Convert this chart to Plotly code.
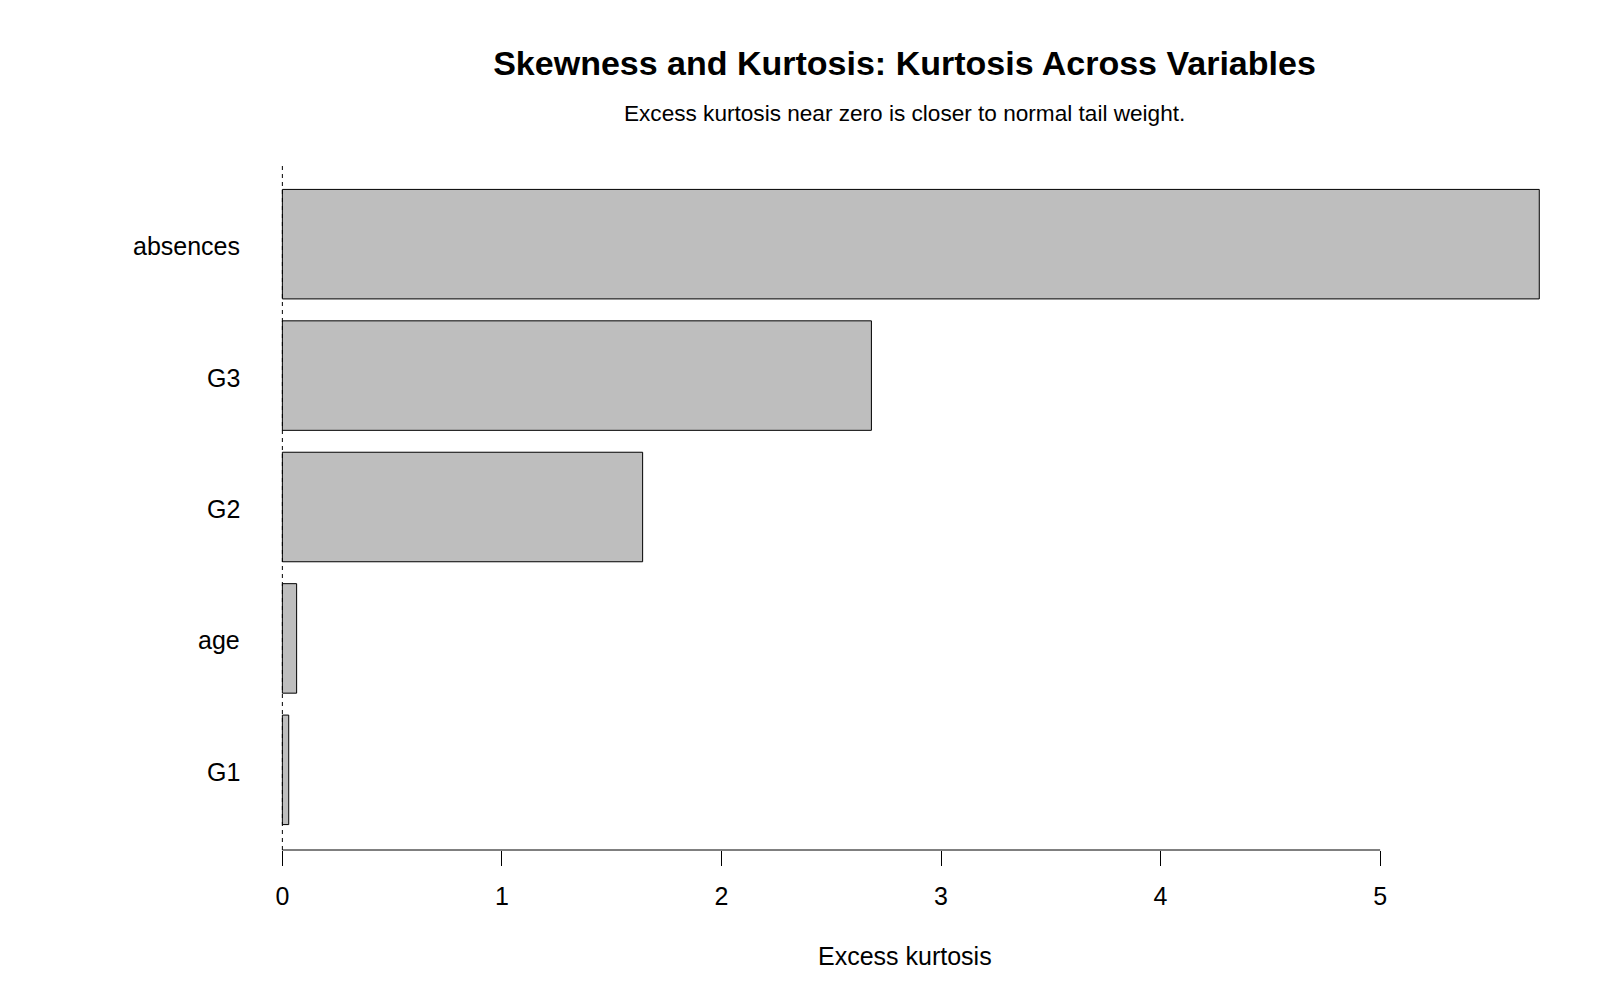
import plotly.graph_objects as go

# Data (bottom to top order as drawn)
variables = ["G1", "age", "G2", "G3", "absences"]
kurtosis = [0.029, 0.065, 1.641, 2.683, 5.725]
x_ticks = [0, 1, 2, 3, 4, 5]

title_text = "Skewness and Kurtosis: Kurtosis Across Variables"
subtitle_text = "Excess kurtosis near zero is closer to normal tail weight."
x_label = "Excess kurtosis"

FONT = "Liberation Sans, Arial, sans-serif"

fig = go.Figure()
fig.add_trace(go.Bar(
    x=kurtosis, y=variables, orientation="h",
    width=1 / 1.2,
    marker=dict(color="#BEBEBE", line=dict(color="black", width=1)),
    hoverinfo="x+y",
))

# dashed reference line at 0
fig.add_shape(type="line", xref="x", yref="paper", x0=0, x1=0, y0=0, y1=1,
              line=dict(color="black", width=1, dash="4px,4px"), layer="above")
# x axis line from first to last tick (R style)
fig.add_shape(type="line", xref="x", yref="paper", x0=x_ticks[0], x1=x_ticks[-1], y0=0, y1=0,
              line=dict(color="black", width=1), layer="above")

# category labels
for v in variables:
    fig.add_annotation(x=-0.1935, y=v, xref="x", yref="y", text=v, showarrow=False,
                       xanchor="right", yanchor="middle", xshift=2, yshift=-2,
                       font=dict(family=FONT, size=25, color="black"))

fig.add_annotation(x=0.5, y=1.073, xref="paper", yref="paper", text=subtitle_text,
                   showarrow=False, xanchor="center", yanchor="middle",
                   font=dict(family=FONT, size=22.6, color="black"))
fig.add_annotation(x=0.5, y=-0.1542, xref="paper", yref="paper", text=x_label,
                   showarrow=False, xanchor="center", yanchor="middle",
                   font=dict(family=FONT, size=25, color="black"))

fig.update_layout(
    width=1600, height=1000,
    margin=dict(l=219, r=10, t=164, b=150, pad=0),
    paper_bgcolor="white", plot_bgcolor="white",
    showlegend=False,
    title=dict(text="<b>" + title_text + "</b>", x=0.5, xref="paper", xanchor="center",
               y=1 - 63 / 1000, yref="container", yanchor="middle",
               font=dict(family=FONT, size=34, color="black")),
    xaxis=dict(range=[-0.2886, 5.956], tickvals=x_ticks, ticktext=[str(t) for t in x_ticks],
               showgrid=False, zeroline=False, showline=False,
               ticks="outside", ticklen=15, tickwidth=1, tickcolor="black",
               tickfont=dict(family=FONT, size=25, color="black"), ticklabelstandoff=9),
    yaxis=dict(type="category", categoryorder="array", categoryarray=variables,
               range=[-0.61, 4.61], showgrid=False, zeroline=False, showline=False,
               showticklabels=False, ticks=""),
)

fig.write_html("out.html")
